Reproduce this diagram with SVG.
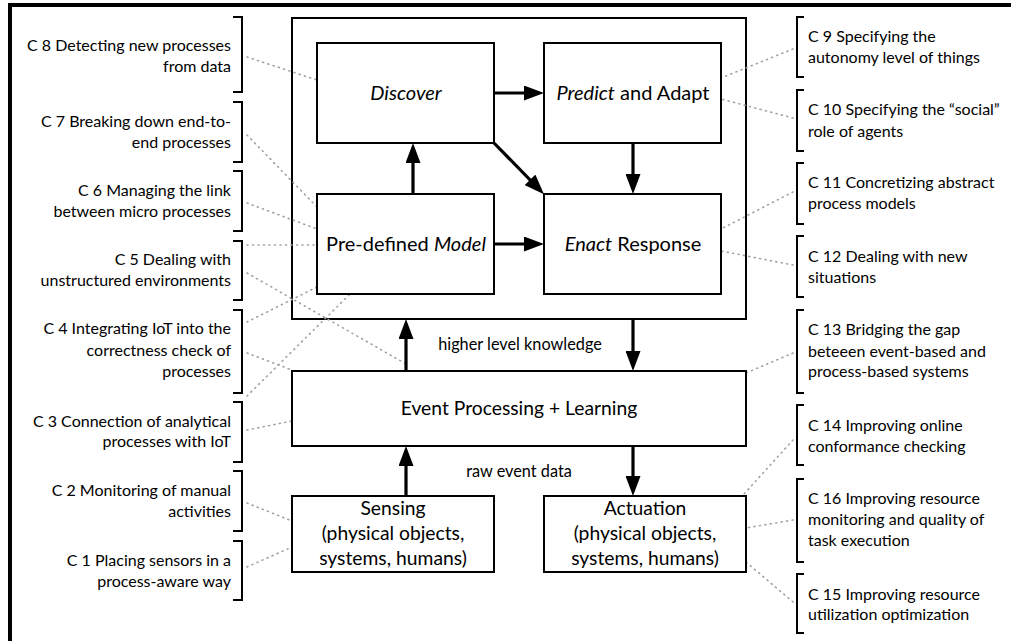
<svg xmlns="http://www.w3.org/2000/svg" width="1011" height="641" viewBox="0 0 1011 641">
<style>
.box{fill:#fff;stroke:#000;stroke-width:2}
.frame{fill:none;stroke:#000;stroke-width:2}
.br{fill:none;stroke:#000;stroke-width:2}
.arr{fill:none;stroke:#000;stroke-width:3.2}
.dot{fill:none;stroke:#a0a0a0;stroke-width:1.6;stroke-dasharray:1 4.5;stroke-linecap:round}
text{font-family:Lato,"Open Sans",sans-serif;fill:#000}
.c{font-size:16px}
.l{text-anchor:end}
.b{font-size:20px;text-anchor:middle}
.m{font-size:19.3px;text-anchor:middle}
.s{font-size:16.3px;text-anchor:middle}
</style>
<defs>
<marker id="ah" markerUnits="userSpaceOnUse" markerWidth="20" markerHeight="15" refX="10" refY="7.5" orient="auto"><path d="M0,0 L20,7.5 L0,15 z" fill="#000"/></marker>
</defs>
<rect x="0" y="0" width="1011" height="641" fill="#fff"/>
<g id="frame">
<rect x="8" y="3" width="1003" height="4" fill="#000"/>
<rect x="8" y="3" width="4" height="638" fill="#000"/>
</g>
<g id="outer"><rect class="frame" x="292" y="18" width="454" height="301"/></g>
<g id="dotted">
<path class="dot" d="M247,57 L317,80"/>
<path class="dot" d="M247,135 L317,207"/>
<path class="dot" d="M247,203 L317,229"/>
<path class="dot" d="M247,245 L317,245"/>
<path class="dot" d="M247,273 L406,364"/>
<path class="dot" d="M247,322 L317,287"/>
<path class="dot" d="M247,353 L292,370"/>
<path class="dot" d="M247,396 L350,294"/>
<path class="dot" d="M247,430 L292,421"/>
<path class="dot" d="M247,503 L292,521"/>
<path class="dot" d="M247,567 L292,547"/>
<path class="dot" d="M793,49 L721,78"/>
<path class="dot" d="M793,118 L721,99"/>
<path class="dot" d="M793,192 L721,229"/>
<path class="dot" d="M793,265 L721,251"/>
<path class="dot" d="M793,353 L746,373"/>
<path class="dot" d="M793,440 L744,494"/>
<path class="dot" d="M793,520 L746,528"/>
<path class="dot" d="M793,602 L746,562"/>
</g>
<g id="discover"><rect class="box" x="317" y="43" width="177" height="100"/><text class="b" x="406" y="100" font-style="italic">Discover</text></g>
<g id="predict"><rect class="box" x="544" y="43" width="177" height="100"/><text class="b" x="633" y="100"><tspan font-style="italic">Predict</tspan> and Adapt</text></g>
<g id="model"><rect class="box" x="317" y="194" width="177" height="100"/><text class="b" x="406" y="251">Pre-defined <tspan font-style="italic">Model</tspan></text></g>
<g id="enact"><rect class="box" x="544" y="194" width="177" height="100"/><text class="b" x="633" y="251"><tspan font-style="italic">Enact</tspan> Response</text></g>
<g id="event"><rect class="box" x="292" y="371" width="454" height="75"/><text class="m" x="519" y="415">Event Processing + Learning</text></g>
<g id="sensing"><rect class="box" x="292" y="496" width="202" height="76"/><text class="m" x="393" y="515">Sensing</text><text class="m" x="393" y="540">(physical objects,</text><text class="m" x="393" y="565">systems, humans)</text></g>
<g id="actuation"><rect class="box" x="544" y="496" width="202" height="76"/><text class="m" x="645" y="515">Actuation</text><text class="m" x="645" y="540">(physical objects,</text><text class="m" x="645" y="565">systems, humans)</text></g>
<g id="connectors">
<path class="arr" marker-end="url(#ah)" d="M494,93 H534"/>
<path class="arr" marker-end="url(#ah)" d="M413,194 V153"/>
<path class="arr" marker-end="url(#ah)" d="M494,143 L537,187"/>
<path class="arr" marker-end="url(#ah)" d="M633,143 V184"/>
<path class="arr" marker-end="url(#ah)" d="M494,244 H534"/>
<path class="arr" marker-end="url(#ah)" d="M406,371 V329"/>
<path class="arr" marker-end="url(#ah)" d="M633,319 V361"/>
<path class="arr" marker-end="url(#ah)" d="M406,496 V456"/>
<path class="arr" marker-end="url(#ah)" d="M633,446 V486"/>
<text class="s" x="520" y="350">higher level knowledge</text>
<text class="s" x="519" y="477">raw event data</text>
</g>
<g id="c8"><path class="br" d="M233,17 H242 V92 H233"/><text class="c l" x="231" y="51">C 8 Detecting new processes</text><text class="c l" x="231" y="72">from data</text></g>
<g id="c7"><path class="br" d="M233,102 H242 V162 H233"/><text class="c l" x="231" y="127">C 7 Breaking down end-to-</text><text class="c l" x="231" y="148">end processes</text></g>
<g id="c6"><path class="br" d="M233,171 H242 V231 H233"/><text class="c l" x="231" y="196">C 6 Managing the link</text><text class="c l" x="231" y="217">between micro processes</text></g>
<g id="c5"><path class="br" d="M233,241 H242 V300 H233"/><text class="c l" x="231" y="265">C 5 Dealing with</text><text class="c l" x="231" y="286">unstructured environments</text></g>
<g id="c4"><path class="br" d="M233,310 H242 V393 H233"/><text class="c l" x="231" y="334">C 4 Integrating IoT into the</text><text class="c l" x="231" y="356">correctness check of</text><text class="c l" x="231" y="377">processes</text></g>
<g id="c3"><path class="br" d="M233,402 H242 V462 H233"/><text class="c l" x="231" y="427">C 3 Connection of analytical</text><text class="c l" x="231" y="447">processes with IoT</text></g>
<g id="c2"><path class="br" d="M233,471 H242 V531 H233"/><text class="c l" x="231" y="496">C 2 Monitoring of manual</text><text class="c l" x="231" y="517">activities</text></g>
<g id="c1"><path class="br" d="M233,541 H242 V600 H233"/><text class="c l" x="231" y="566">C 1 Placing sensors in a</text><text class="c l" x="231" y="587">process-aware way</text></g>
<g id="c9"><path class="br" d="M804,17 H797 V77 H804"/><text class="c" x="808" y="42">C 9 Specifying the</text><text class="c" x="808" y="63">autonomy level of things</text></g>
<g id="c10"><path class="br" d="M804,90 H797 V151 H804"/><text class="c" x="808" y="115">C 10 Specifying the “social”</text><text class="c" x="808" y="137">role of agents</text></g>
<g id="c11"><path class="br" d="M804,163 H797 V224 H804"/><text class="c" x="808" y="188">C 11 Concretizing abstract</text><text class="c" x="808" y="209">process models</text></g>
<g id="c12"><path class="br" d="M804,236 H797 V297 H804"/><text class="c" x="808" y="262">C 12 Dealing with new</text><text class="c" x="808" y="283">situations</text></g>
<g id="c13"><path class="br" d="M804,310 H797 V393 H804"/><text class="c" x="808" y="335">C 13 Bridging the gap</text><text class="c" x="808" y="357">beteeen event-based and</text><text class="c" x="808" y="377">process-based systems</text></g>
<g id="c14"><path class="br" d="M804,405 H797 V465 H804"/><text class="c" x="808" y="431">C 14 Improving online</text><text class="c" x="808" y="452">conformance checking</text></g>
<g id="c16"><path class="br" d="M804,479 H797 V562 H804"/><text class="c" x="808" y="504">C 16 Improving resource</text><text class="c" x="808" y="525">monitoring and quality of</text><text class="c" x="808" y="546">task execution</text></g>
<g id="c15"><path class="br" d="M804,574 H797 V633 H804"/><text class="c" x="808" y="600">C 15 Improving resource</text><text class="c" x="808" y="620">utilization optimization</text></g>
</svg>
